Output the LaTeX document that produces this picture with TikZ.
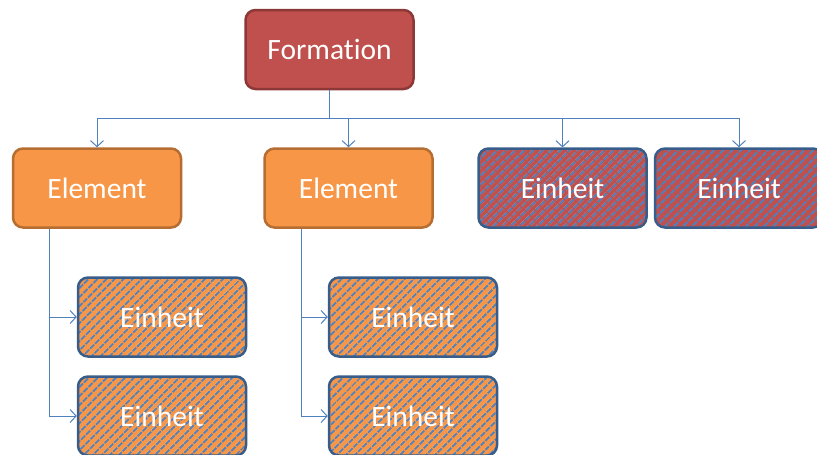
\documentclass[tikz,border=0pt]{standalone}
\usepackage{fontspec}
\setmainfont{Carlito}[Ligatures={NoCommon}]
\usetikzlibrary{arrows.meta,patterns.meta}

\definecolor{formred}{HTML}{C0504D}
\definecolor{formredline}{HTML}{8C3836}
\definecolor{elorange}{HTML}{F79646}
\definecolor{elorangeline}{HTML}{B66D31}
\definecolor{hatchblue}{HTML}{4F81BD}
\definecolor{unitline}{HTML}{385D8A}

\begin{document}
\begin{tikzpicture}[x=1pt, y=-1pt,
    box/.style = {rounded corners=10pt, line width=2.5pt, minimum width=168pt, minimum height=79pt,
                  text=white, font=\fontsize{29.5}{32}\selectfont, inner sep=0pt},
    formbox/.style = {box, fill=formred, draw=formredline},
    elbox/.style = {box, fill=elorange, draw=elorangeline},
    unitbox/.style = {box, draw=unitline, preaction={fill=#1},
                      pattern={Lines[angle=45, distance=6.4pt, line width=2.2pt]}, pattern color=hatchblue},
    link/.style = {draw=hatchblue, line width=1pt, -{Straight Barb[length=6pt,width=13pt]}}]

            \useasboundingbox (0,0) rectangle (817,455);

            % top level
            \node[formbox] (form) at (329.5,49.5) {Formation};
            \coordinate (bus) at (329.5,118);

            % second row
            \node[elbox] (el1) at (97,188) {Element};
            \node[elbox] (el2) at (348.5,188) {Element};
            \node[unitbox=formred] (u1) at (562.5,188) {Einheit};
            \node[unitbox=formred] (u2) at (739,188) {Einheit};

            \draw[link] (form.south) -- (bus) -| (el1.north);
            \draw[link] (bus) -| (el2.north);
            \draw[link] (bus) -| (u1.north);
            \draw[link] (bus) -| (u2.north);

            % units below the elements
            \node[unitbox=elorange] (u11) at (162,317) {Einheit};
            \node[unitbox=elorange] (u12) at (162,416) {Einheit};
            \node[unitbox=elorange] (u21) at (413,317) {Einheit};
            \node[unitbox=elorange] (u22) at (413,416) {Einheit};

            \draw[link] ([xshift=38pt]el1.south west) |- (u11.west);
            \draw[link] ([xshift=38pt]el1.south west) |- (u12.west);
            \draw[link] ([xshift=38pt]el2.south west) |- (u21.west);
            \draw[link] ([xshift=38pt]el2.south west) |- (u22.west);
\end{tikzpicture}
\end{document}
